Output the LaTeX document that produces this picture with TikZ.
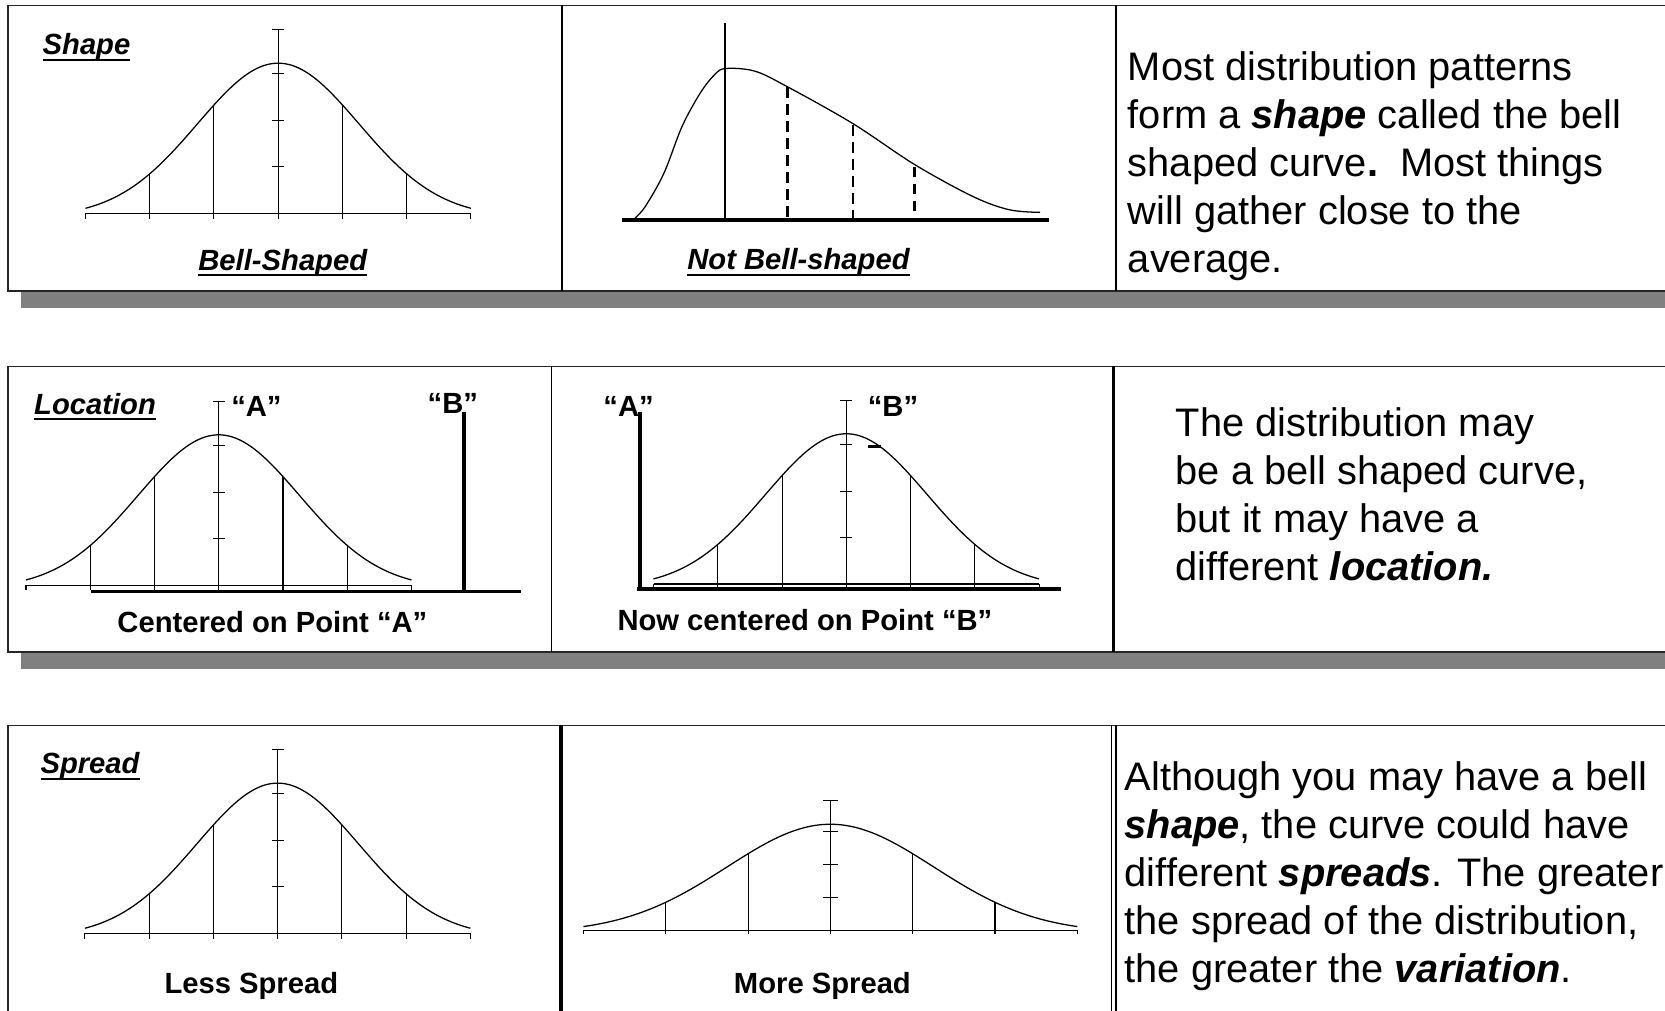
\documentclass[tikz,border=0pt]{standalone}
\usepackage{fontspec}
\setmainfont{Liberation Sans}
\usepackage{tikz}
\usetikzlibrary{calc}

\newlength{\ulwd}
\newcommand{\ulined}[1]{\settowidth{\ulwd}{#1}\rlap{\rule[-5.5pt]{\ulwd}{2pt}}#1}

\begin{document}
\begin{tikzpicture}[x=1pt,y=-1pt,
    panel/.style={draw=black!85,line width=1.3pt,fill=white},
    shadowbar/.style={fill=black!50,draw=none},
    colline/.style={draw=black,line width=#1},
    axisline/.style={line width=1pt},
    curveline/.style={line width=1.2pt},
    heavy/.style={line width=3.5pt},
    body/.style={font=\fontsize{37.5}{45.25}\selectfont,align=left,
                 anchor=north west,inner sep=0pt},
    tag/.style={font=\fontsize{27.5}{33}\selectfont\bfseries,
                inner sep=0pt,anchor=base},
    heading/.style={font=\fontsize{27.5}{33}\selectfont\bfseries\itshape,
                    inner sep=0pt,anchor=base},
    bell/.pic={
      \draw[axisline] (-181.5,0) -- (181.5,0);
      \foreach \px in {-181.5,-121,-60.5,0,60.5,121,181.5}
        \draw[axisline] (\px,0) -- (\px,5);
      \draw[curveline] plot[domain=-181.5:181.5,samples=90,smooth]
        (\x,{-3-145.03*(exp(-0.5*(\x/76)^2)-0.045)});
      \foreach \px in {-121,-60.5,60.5,121}
        \draw[axisline] (\px,0) -- (\px,{-3-145.03*(exp(-0.5*(\px/76)^2)-0.045)});
      \draw[axisline] (0,0) -- (0,-173) (-5.5,-173) -- (5.5,-173);
      \foreach \py in {44,87.5,131.5}
        \draw[axisline] (-5.5,-\py) -- (5.5,-\py);
    }]
  \path[use as bounding box] (0,0) rectangle (1568,952);
  \clip (0,0) rectangle (1568,952);

  % shadows and frames
  \fill[shadowbar] (19.5,21) rectangle (1600,290.3);
  \fill[shadowbar] (19.5,361) rectangle (1600,630);
  \fill[shadowbar] (19.5,699) rectangle (1600,1000);
  \draw[panel] (7.5,5) rectangle (1590,274);
  \draw[panel] (7.5,345) rectangle (1590,614);
  \draw[panel] (7.5,683) rectangle (1590,990);

  \draw[colline=2.3pt] (529,5) -- (529,274);
  \draw[colline=2pt] (1050.6,5) -- (1050.6,274);
  \draw[colline=1.5pt] (519.5,345) -- (519.5,614);
  \draw[colline=3pt] (1048.4,345) -- (1048.4,614);
  \draw[colline=3pt] (528.3,683) -- (528.3,952);
  \draw[colline=1.2pt] (1047,683) -- (1047,952) (1051,683) -- (1051,952);

  % shape
  \pic at (262,201) {bell};
  \node[heading,anchor=base west] (shapehead) at (40,51.6) {\ulined{Shape}};
  \node[heading] (bellname) at (266.3,254.4) {\ulined{Bell-Shaped}};

  \draw[line width=3.8pt] (586,207) -- (988,207);
  \draw[line width=2.2pt] (683,22) -- (683,207);
  \draw[curveline] plot[smooth,tension=0.55] coordinates {(598,205.5) (608,194)
    (625.3,163) (642.4,118.9) (659.6,87.4) (673.2,70.1) (683.5,64.5)
    (710.9,67) (741.7,81.8) (803.2,116.4) (861.4,155) (916.1,185)
    (950.3,197.5) (979.4,200)};
  \draw[line width=3.2pt,dash pattern=on 10pt off 6pt] (741.7,82) -- (741.7,207);
  \draw[line width=2.4pt,dash pattern=on 10pt off 6pt] (803.2,118) -- (803.2,207);
  \draw[line width=3.2pt,dash pattern=on 10pt off 6pt] (861.4,157) -- (861.4,207);
  \node[heading] (skewname) at (752,254.2) {\ulined{Not Bell-shaped}};

  \node[body] (shapetext) at (1062,48.4) {Most distribution patterns\\
    form a \textbf{\textit{shape}} called the bell\\
    shaped curve\textbf{.}\ \ Most things\\
    will gather close to the\\
    average.};

  % location
  \pic at (206,551) {bell};
  \draw[heavy] (86,557) -- (491,557);
  \draw[heavy] (437,388) -- (437,557);
  \node[heading,anchor=base west] (lochead) at (32,389.9) {\ulined{Location}};
  \node[tag] (ptA) at (241.5,392.4) {“A”};
  \node[tag] (ptB) at (426.5,389.2) {“B”};
  \node[tag] (centA) at (256.5,595.8) {Centered on Point “A”};

  \pic at (797,550) {bell};
  \draw[heavy] (600,554.5) -- (999,554.5);
  \draw[heavy] (603,388) -- (603,554.5);
  \draw[line width=2.5pt] (817,420.5) -- (830,420.5);
  \node[tag] (ptA2) at (592,392.4) {“A”};
  \node[tag] (ptB2) at (841,392.4) {“B”};
  \node[tag] (centB) at (758,594.2) {Now centered on Point “B”};

  \node[body] (loctext) at (1107,383.8) {The distribution may\\
    be a bell shaped curve,\\
    but it may have a\\
    different \textbf{\textit{location.}}};

  % spread
  \pic at (261.5,879) {bell};
  \node[heading,anchor=base west] (spreadhead) at (38,728.9) {\ulined{Spread}};
  \node[tag] (lessname) at (236.7,935.4) {Less Spread};

  \pic[xscale=1.281,yscale=0.705] at (782,876) {bell};
  \node[tag] (morename) at (774.5,935.4) {More Spread};

  \node[body] (spreadtext) at (1059,717.2) {Although you may have a bell\\
    \textbf{\textit{shape}}, the curve could have\\
    different \textbf{\textit{spreads}}. The greater\\
    the spread of the distribution,\\
    the greater the \textbf{\textit{variation}}.};
\end{tikzpicture}
\end{document}
